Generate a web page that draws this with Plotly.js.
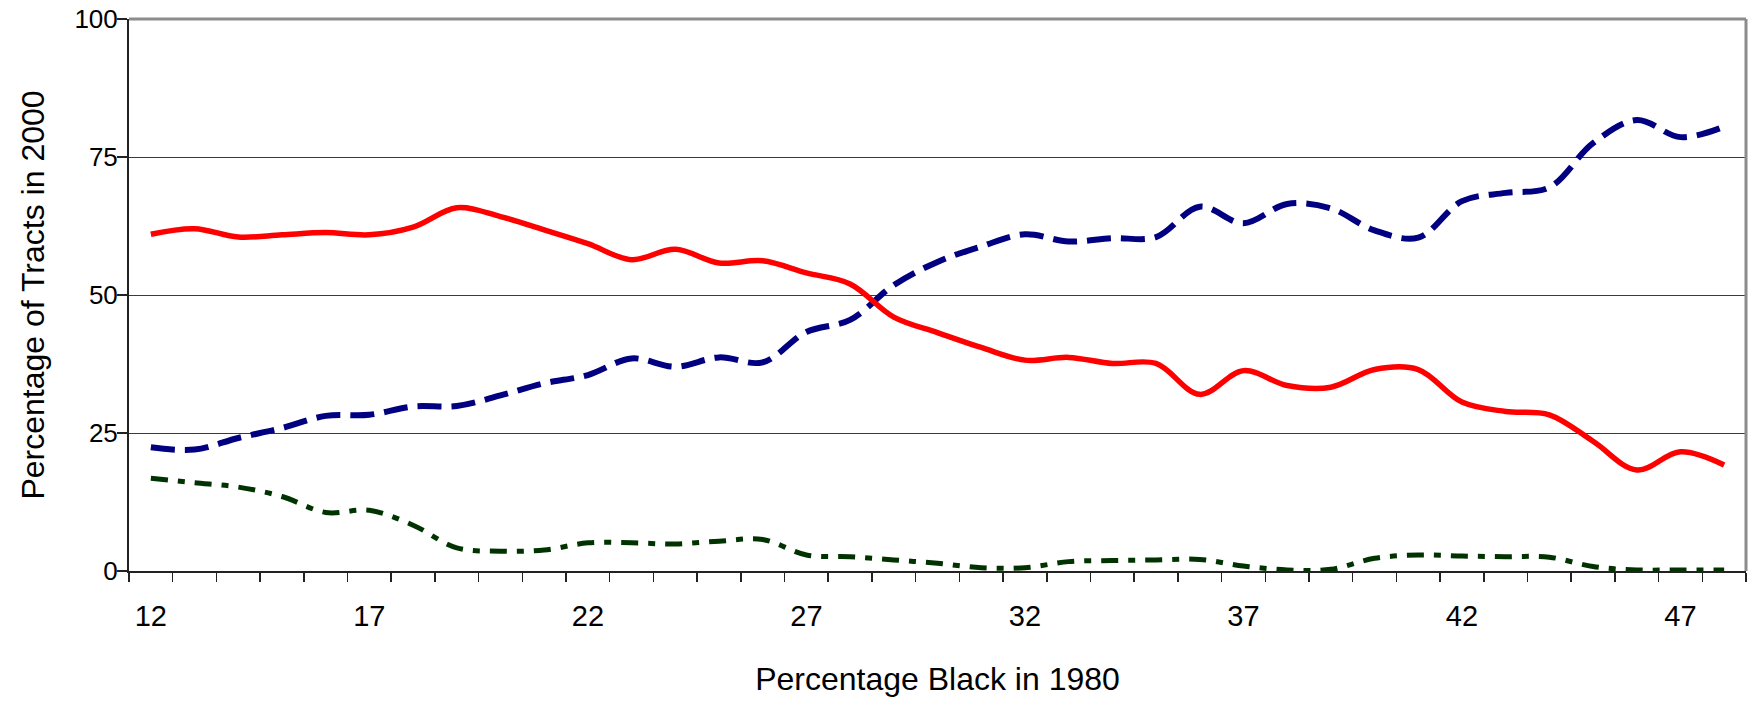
<!DOCTYPE html>
<html>
<head>
<meta charset="utf-8">
<script src="https://cdn.plot.ly/plotly-3.0.1.min.js"></script>
<style>
  html, body { margin: 0; padding: 0; background: #ffffff; }
  #chart { width: 1754px; height: 705px; }
</style>
</head>
<body>
<div id="chart"></div>
<script>
// Percentage Black in 1980 (categories)
const percentBlack1980 = [12, 13, 14, 15, 16, 17, 18, 19, 20, 21, 22, 23, 24, 25, 26, 27, 28, 29, 30,
  31, 32, 33, 34, 35, 36, 37, 38, 39, 40, 41, 42, 43, 44, 45, 46, 47, 48];

// Series values: percentage of tracts in 2000
const redSeries = [61, 62, 60.5, 60.9, 61.3, 60.9, 62.3, 65.8, 64.2, 61.8, 59.3, 56.4, 58.3, 55.8, 56.2,
  54, 52, 46, 43.2, 40.5, 38.2, 38.7, 37.6, 37.6, 32, 36.3, 33.6, 33.3, 36.5, 36.5, 30.6, 28.9, 28.3,
  23.5, 18.3, 21.6, 19.2];
const blueSeries = [22.4, 22, 24.1, 25.9, 28.1, 28.3, 29.8, 29.9, 31.8, 34, 35.5, 38.5, 37, 38.7, 37.8,
  43.3, 45.5, 51.8, 56, 58.8, 61, 59.7, 60.3, 60.5, 66, 63, 66.5, 65.7, 61.7, 60.4, 67, 68.5, 69.5,
  77.5, 81.7, 78.6, 80.5];
const greenSeries = [16.8, 16, 15.2, 13.5, 10.6, 11, 8.3, 4.2, 3.6, 3.8, 5.1, 5.1, 4.9, 5.4, 5.7,
  2.9, 2.6, 2, 1.4, 0.6, 0.6, 1.7, 1.9, 2, 2.1, 0.9, 0.2, 0.3, 2.3, 2.9, 2.7, 2.6, 2.5, 0.8, 0.2, 0.2, 0.2];

// Tick labels
const xTickLabels = ['12', '17', '22', '27', '32', '37', '42', '47'];
const yTickLabels = ['0', '25', '50', '75', '100'];

const xTitle = 'Percentage Black in 1980';
const yTitle = 'Percentage of Tracts in 2000';

const traces = [
  {
    x: percentBlack1980, y: greenSeries, type: 'scatter', mode: 'lines', name: 'green',
    line: { color: '#003300', width: 5, shape: 'spline', smoothing: 1, dash: '17px,10px,7px,10px' },
    hoverinfo: 'skip'
  },
  {
    x: percentBlack1980, y: blueSeries, type: 'scatter', mode: 'lines', name: 'blue',
    line: { color: '#000080', width: 6, shape: 'spline', smoothing: 1, dash: '24px,10px' },
    hoverinfo: 'skip'
  },
  {
    x: percentBlack1980, y: redSeries, type: 'scatter', mode: 'lines', name: 'red',
    line: { color: '#ff0000', width: 5.5, shape: 'spline', smoothing: 1 },
    hoverinfo: 'skip'
  }
];

const layout = {
  width: 1754,
  height: 705,
  margin: { l: 129, r: 8, t: 19, b: 134, pad: 0 },
  paper_bgcolor: '#ffffff',
  plot_bgcolor: '#ffffff',
  showlegend: false,
  font: { family: 'Liberation Sans, Arial, sans-serif', color: '#000000', size: 26 },
  xaxis: {
    range: [percentBlack1980[0] - 0.5, percentBlack1980[percentBlack1980.length - 1] + 0.5],
    tickmode: 'array',
    tickvals: xTickLabels.map(Number),
    ticktext: xTickLabels,
    ticks: '',
    ticklabelstandoff: 18,
    tickfont: { size: 29, color: '#000000' },
    showgrid: false,
    zeroline: false,
    showline: true,
    linecolor: '#222222',
    linewidth: 2,
    minor: {
      tickmode: 'linear',
      tick0: percentBlack1980[0] - 0.5,
      dtick: 1,
      ticks: 'outside',
      ticklen: 9,
      tickwidth: 1.5,
      tickcolor: '#222222',
      showgrid: false
    },
    title: { text: xTitle, font: { size: 32, color: '#000000' }, standoff: 37 },
    fixedrange: true
  },
  yaxis: {
    range: [0, 100],
    tickmode: 'array',
    tickvals: yTickLabels.map(Number),
    ticktext: yTickLabels,
    ticks: 'outside',
    ticklen: 10,
    tickwidth: 1.5,
    tickcolor: '#222222',
    ticklabelstandoff: -6,
    tickfont: { size: 26, color: '#000000' },
    showgrid: true,
    gridcolor: '#3a3a3a',
    gridwidth: 1,
    zeroline: false,
    showline: true,
    linecolor: '#222222',
    linewidth: 2,
    title: { text: yTitle, font: { size: 32, color: '#000000' }, standoff: 20 },
    fixedrange: true
  },
  shapes: [
    { type: 'line', xref: 'paper', yref: 'paper', x0: 0, x1: 1, y0: 1, y1: 1,
      line: { color: '#8c8c8c', width: 3 }, layer: 'above' },
    { type: 'line', xref: 'paper', yref: 'paper', x0: 1, x1: 1, y0: 0, y1: 1,
      line: { color: '#8c8c8c', width: 3 }, layer: 'above' }
  ]
};

Plotly.newPlot('chart', traces, layout, { staticPlot: true, displayModeBar: false });
</script>
</body>
</html>
